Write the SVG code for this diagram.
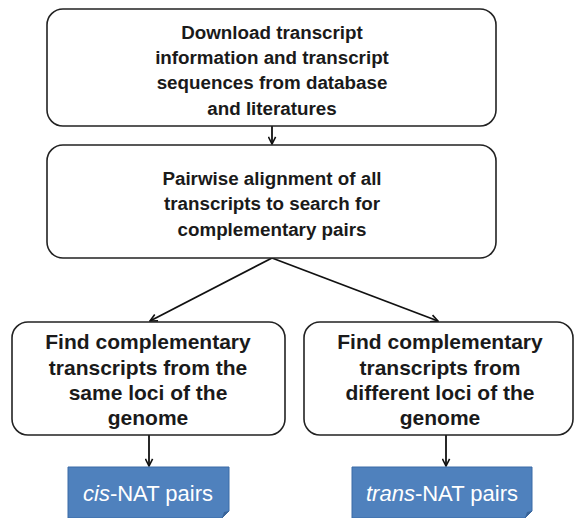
<svg xmlns="http://www.w3.org/2000/svg" width="574" height="518" viewBox="0 0 574 518">
<defs>
<style>
.box{fill:#fff;stroke:#222;stroke-width:1.6}
.t{font-family:"Liberation Sans",Arial,sans-serif;font-weight:bold;font-size:18.8px;fill:#1a1a1a;text-anchor:middle}
.t2{font-family:"Liberation Sans",Arial,sans-serif;font-weight:bold;font-size:21px;fill:#1a1a1a;text-anchor:middle}
.b{font-family:"Liberation Sans",Arial,sans-serif;font-size:22px;fill:#fff;text-anchor:middle}
.doc{fill:#4F81BD;stroke:#3A6AA6;stroke-width:1}
.fold{fill:#3A6497}
.c{stroke:#111;stroke-width:1.8;fill:none}
</style>
<marker id="ah" viewBox="0 0 10 10" refX="9" refY="5" markerWidth="9" markerHeight="9" orient="auto" markerUnits="userSpaceOnUse">
<path d="M1,1 L9,5 L1,9" fill="none" stroke="#111" stroke-width="1.8"/>
</marker>
</defs>
<rect width="574" height="518" fill="#fff"/>
<g id="connectors">
<line class="c" x1="272" y1="126" x2="272" y2="144" marker-end="url(#ah)"/>
<line class="c" x1="272" y1="258" x2="150" y2="321" marker-end="url(#ah)"/>
<line class="c" x1="272" y1="258" x2="438" y2="321" marker-end="url(#ah)"/>
<line class="c" x1="149" y1="435" x2="149" y2="466" marker-end="url(#ah)"/>
<line class="c" x1="446" y1="435" x2="446" y2="466" marker-end="url(#ah)"/>
</g>
<g id="download">
<rect class="box" x="47" y="9" width="449" height="117" rx="16"/>
<text class="t" x="272" y="39">Download transcript</text>
<text class="t" x="272" y="64">information and transcript</text>
<text class="t" x="272" y="89">sequences from database</text>
<text class="t" x="272" y="115">and literatures</text>
</g>
<g id="pairwise">
<rect class="box" x="47" y="145" width="449" height="113" rx="16"/>
<text class="t" x="272" y="185">Pairwise alignment of all</text>
<text class="t" x="272" y="210">transcripts to search for</text>
<text class="t" x="272" y="236">complementary pairs</text>
</g>
<g id="same-loci">
<rect class="box" x="12" y="322" width="273" height="113" rx="16"/>
<text class="t2" x="148" y="349">Find complementary</text>
<text class="t2" x="148" y="375">transcripts from the</text>
<text class="t2" x="148" y="400">same loci of the</text>
<text class="t2" x="148" y="425">genome</text>
</g>
<g id="diff-loci">
<rect class="box" x="304" y="322" width="269" height="113" rx="16"/>
<text class="t2" x="440" y="349">Find complementary</text>
<text class="t2" x="440" y="375">transcripts from</text>
<text class="t2" x="440" y="400">different loci of the</text>
<text class="t2" x="440" y="425">genome</text>
</g>
<g id="cis-nat">
<path class="doc" d="M68,467 H229 V511 L222,518 H68 Z"/>
<path class="fold" d="M229,511 L222,518 L224,512 Z"/>
<text class="b" x="148" y="501"><tspan font-style="italic">cis</tspan>-NAT pairs</text>
</g>
<g id="trans-nat">
<path class="doc" d="M352,467 H532 V511 L525,518 H352 Z"/>
<path class="fold" d="M532,511 L525,518 L527,512 Z"/>
<text class="b" x="442" y="501"><tspan font-style="italic">trans</tspan>-NAT pairs</text>
</g>
</svg>
